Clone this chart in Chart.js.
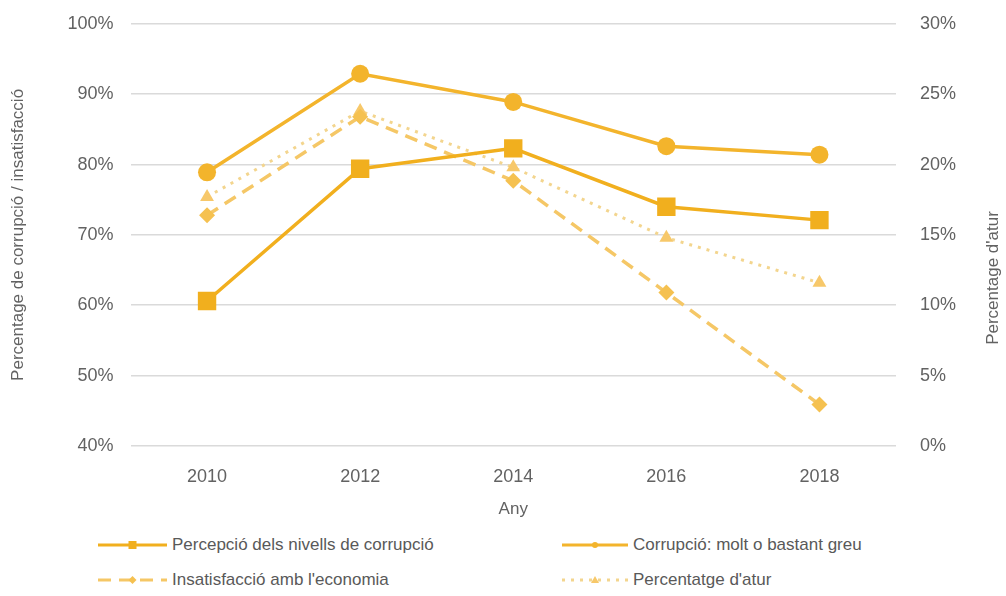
<!DOCTYPE html>
<html>
<head>
<meta charset="utf-8">
<script src="https://cdn.jsdelivr.net/npm/chart.js@4/dist/chart.umd.min.js"></script>
<style>
  html, body { margin: 0; padding: 0; background: #fff; }
  #wrap { position: relative; width: 1006px; height: 596px; overflow: hidden; font-family: "Liberation Sans", Arial, sans-serif; }
  #box { position: absolute; left: 0; top: -11px; width: 1006px; height: 531px; }
  .lg { position: absolute; display: flex; align-items: center; height: 24px; color: #595959; font-size: 17px; white-space: nowrap; }
  .lg svg { margin-right: 5px; }
</style>
</head>
<body>
<div id="wrap">
  <div id="box"><canvas id="c"></canvas></div>
</div>
<script>
const years = ['2010', '2012', '2014', '2016', '2018'];
const seriesNames = [
  'Percepció dels nivells de corrupció',
  'Corrupció: molt o bastant greu',
  'Insatisfacció amb l\'economia',
  'Percentatge d\'atur'
];
const percepcio = [60.6, 79.4, 82.3, 74.0, 72.1];
const corrupcioGreu = [78.9, 92.9, 88.9, 82.6, 81.4];
const insatisfaccio = [72.8, 86.8, 77.7, 61.8, 45.9];
const atur = [17.7, 23.8, 19.8, 14.8, 11.6];
const leftTicks = [40, 50, 60, 70, 80, 90, 100];
const rightTicks = [0, 5, 10, 15, 20, 25, 30];
const rightTitle = 'Percentage d\'atur';

const C_SQ = '#F1AF1E', C_CI = '#F3B42C', C_DA = '#F5C766', C_DO = '#F3D58E';
const F_DA = '#F5C150', F_DO = '#F7C86A';
const txt = '#626262';
const fam = '"Liberation Sans", Arial, sans-serif';
const font = { family: fam, size: 18 };

const datasets = [
  { label: seriesNames[0], data: percepcio, yAxisID: 'y', borderColor: C_SQ, backgroundColor: C_SQ,
    borderWidth: 3.5, pointStyle: 'rect', pointRadius: 13, pointBorderWidth: 0, order: 0, tension: 0 },
  { label: seriesNames[1], data: corrupcioGreu, yAxisID: 'y', borderColor: C_CI, backgroundColor: C_CI,
    borderWidth: 3.5, pointStyle: 'circle', pointRadius: 9, pointBorderWidth: 0, order: 1, tension: 0 },
  { label: seriesNames[2], data: insatisfaccio, yAxisID: 'y', borderColor: C_DA, backgroundColor: F_DA,
    borderWidth: 3.5, borderDash: [13, 8], pointStyle: 'rectRot', pointRadius: 8, pointBorderWidth: 0, order: 2, tension: 0 },
  { label: seriesNames[3], data: atur, yAxisID: 'y2', borderColor: C_DO, backgroundColor: F_DO,
    borderWidth: 3, borderDash: [3, 6], pointStyle: 'triangle', pointRadius: 8, pointBorderWidth: 0, order: 3, tension: 0 }
];

// right-axis title, reading bottom-to-top like the left one
const rightTitlePlugin = {
  id: 'rightTitle',
  afterDraw(chart) {
    const ctx = chart.ctx;
    ctx.save();
    ctx.translate(993, 289);
    ctx.rotate(-Math.PI / 2);
    ctx.font = '17px ' + fam;
    ctx.fillStyle = txt;
    ctx.textAlign = 'center';
    ctx.textBaseline = 'middle';
    ctx.fillText(rightTitle, 0, 0);
    ctx.restore();
  }
};

new Chart(document.getElementById('c'), {
  type: 'line',
  data: { labels: years, datasets: datasets },
  plugins: [rightTitlePlugin],
  options: {
    responsive: true,
    maintainAspectRatio: false,
    animation: false,
    layout: { padding: { top: 12, left: 0, right: 0, bottom: 0 } },
    plugins: { legend: { display: false }, tooltip: { enabled: false } },
    scales: {
      x: {
        type: 'category',
        offset: true,
        grid: { display: false },
        border: { display: false },
        ticks: { color: txt, font: font, padding: 12, maxRotation: 0 },
        title: { display: true, text: 'Any', color: txt, font: { family: fam, size: 17 }, padding: { top: 6, bottom: 0 } },
        afterFit: s => { s.height = 74; }
      },
      y: {
        position: 'left',
        min: 40, max: 100,
        afterBuildTicks: s => { s.ticks = leftTicks.map(v => ({ value: v })); },
        grid: { color: '#dadada', lineWidth: 1.6, drawTicks: false },
        border: { display: false },
        ticks: { color: txt, font: font, padding: 17, callback: v => v + '%' },
        title: { display: true, text: 'Percentage de corrupció / insatisfacció', color: txt, font: { family: fam, size: 17 }, padding: { top: 8, bottom: 0 } },
        afterFit: s => { s.width = 130.5; }
      },
      y2: {
        position: 'right',
        min: 0, max: 30,
        afterBuildTicks: s => { s.ticks = rightTicks.map(v => ({ value: v })); },
        grid: { drawOnChartArea: false, drawTicks: false },
        border: { display: false },
        ticks: { color: txt, font: font, padding: 24, callback: v => v + '%' },
        title: { display: false },
        afterFit: s => { s.width = 110; }
      }
    }
  }
});

// HTML legend built from the dataset definitions
const wrap = document.getElementById('wrap');
const legendPos = [ [98, 533], [562, 533], [98, 568], [562, 568] ];
const sampleW = [69, 66, 69, 66];
datasets.forEach((d, i) => {
  const el = document.createElement('div');
  el.className = 'lg';
  el.style.left = legendPos[i][0] + 'px';
  el.style.top = legendPos[i][1] + 'px';
  const w = sampleW[i], cx = w / 2, cy = 12;
  const dash = d.borderDash ? `stroke-dasharray="${d.borderDash.join(' ')}"` : '';
  let mk = '';
  if (d.pointStyle === 'rect') mk = `<rect x="${cx - 4}" y="${cy - 4}" width="8" height="8" fill="${d.backgroundColor}"/>`;
  else if (d.pointStyle === 'circle') mk = `<circle cx="${cx}" cy="${cy}" r="3" fill="${d.backgroundColor}"/>`;
  else if (d.pointStyle === 'rectRot') mk = `<polygon points="${cx},${cy - 4} ${cx + 4},${cy} ${cx},${cy + 4} ${cx - 4},${cy}" fill="${d.backgroundColor}"/>`;
  else mk = `<polygon points="${cx},${cy - 4} ${cx + 4},${cy + 3} ${cx - 4},${cy + 3}" fill="${d.backgroundColor}"/>`;
  el.innerHTML = `<svg width="${w}" height="24"><line x1="0" y1="${cy}" x2="${w}" y2="${cy}" stroke="${d.borderColor}" stroke-width="3" ${dash}/>${mk}</svg><span>${d.label}</span>`;
  wrap.appendChild(el);
});
</script>
</body>
</html>
